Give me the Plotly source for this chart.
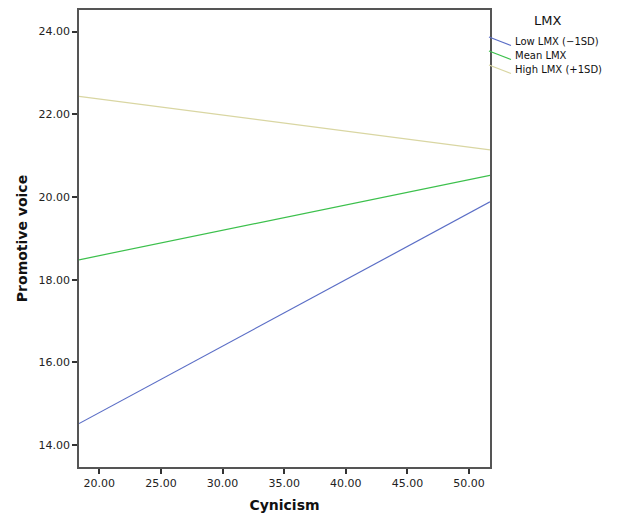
import plotly.graph_objects as go

# Data
x_vals = [18.35, 51.7]
low_lmx = [14.52, 19.88]
mean_lmx = [18.48, 20.52]
high_lmx = [22.43, 21.14]
series_names = ["Low LMX (\u22121SD)", "Mean LMX", "High LMX (+1SD)"]
series_values = [low_lmx, mean_lmx, high_lmx]
series_colors = ["#5b6ec6", "#3cc04c", "#d9d6a2"]
x_ticks = [20, 25, 30, 35, 40, 45, 50]
y_ticks = [14, 16, 18, 20, 22, 24]
legend_title = "LMX"

# page body has an 8px margin, so the figure is drawn at (8, 8)
OFF = 8
W, H = 617 - OFF, 516 - OFF
L, R, T, B = 79 - OFF, 127, 2, 49
PW, PH = W - L - R, H - T - B

def px(p):
    return (p - OFF - L) / PW

def py(p):
    return (H - B - (p - OFF)) / PH

fig = go.Figure()
for name, vals, col in zip(series_names, series_values, series_colors):
    fig.add_trace(go.Scatter(x=x_vals, y=vals, mode="lines", name=name,
                             line=dict(color=col, width=1.2), showlegend=False))

font = "DejaVu Sans, Verdana, sans-serif"
axis_common = dict(showgrid=False, zeroline=False, showline=True, linecolor="#555555",
                   linewidth=1.5, mirror=True, ticks="outside", ticklen=5, tickwidth=1.5,
                   tickcolor="#333333", tickfont=dict(family=font, size=11, color="#222222"))

# Manual legend (SPSS style, diagonal samples)
shapes = []
annotations = [dict(x=px(547), y=py(20), xref="paper", yref="paper", text=legend_title,
                    showarrow=False, xanchor="center", yanchor="middle",
                    font=dict(family=font, size=13, color="#111111"))]
for i, (name, col) in enumerate(zip(series_names, series_colors)):
    cy = 41.5 + 14 * i
    shapes.append(dict(type="line", xref="paper", yref="paper",
                       x0=px(489), y0=py(cy - 4.5), x1=px(511), y1=py(cy + 4),
                       line=dict(color=col, width=1.2)))
    annotations.append(dict(x=px(513), y=py(cy), xref="paper", yref="paper", text=name,
                            showarrow=False, xanchor="left", yanchor="middle",
                            font=dict(family=font, size=10, color="#111111")))

fig.update_layout(
    width=W, height=H,
    margin=dict(l=L, r=R, t=T, b=B, autoexpand=False),
    paper_bgcolor="white", plot_bgcolor="white",
    xaxis=dict(range=[18.35, 51.7], tickvals=x_ticks,
               ticktext=[f"{v:.2f}" for v in x_ticks],
               title=dict(text="<b>Cynicism</b>", font=dict(family=font, size=14, color="#111111"), standoff=11),
               **axis_common),
    yaxis=dict(range=[13.47, 24.52], tickvals=y_ticks,
               ticktext=[f"{v:.2f}" for v in y_ticks],
               title=dict(text="<b>Promotive voice</b>", font=dict(family=font, size=14, color="#111111"), standoff=8),
               **axis_common),
    shapes=shapes,
    annotations=annotations,
    showlegend=False,
)

fig.write_html("out.html")
